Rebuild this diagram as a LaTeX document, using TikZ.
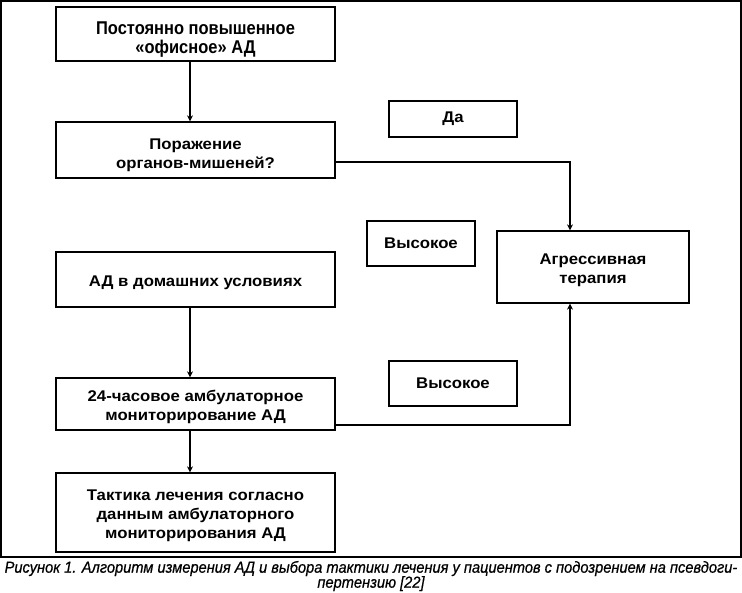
\documentclass[tikz,border=0pt]{standalone}
\usepackage{fontspec}
\setmainfont{Liberation Sans}
\newfontfamily\wideboxfont{Liberation Sans}[FakeStretch=1.08]
\newfontfamily\condfont{Liberation Sans}[FakeStretch=0.89]
\newfontfamily\capfont{Liberation Sans}[FakeStretch=0.915, ItalicFeatures={FakeBold=0.6}]
\usetikzlibrary{arrows.meta}
\newcommand\lowlines[2]{\raisebox{-#1}[\height][\depth]{\begin{tabular}{@{}c@{}}#2\end{tabular}}}
\begin{document}
\begin{tikzpicture}[x=1pt,y=-1pt,
  box/.style={draw, line width=1.3pt, align=center, inner sep=0pt,
    font=\fontsize{15.5}{19}\wideboxfont\bfseries},
  arr/.style={line width=1.1pt, -{Stealth[length=6pt,width=6pt]}}]
\useasboundingbox (0,0) rectangle (742,593);
\draw[line width=1.5pt] (1,1) rectangle (741,557);
\node[box, minimum width=279pt, minimum height=54pt,
  font=\fontsize{18.5}{19}\condfont\bfseries] (b1) at (195.5,34)
  {\lowlines{6pt}{Постоянно повышенное\\«офисное» АД}};
\node[box, minimum width=279pt, minimum height=56pt] (b2) at (195.5,150)
  {\lowlines{5pt}{Поражение\\органов-мишеней?}};
\node[box, minimum width=128pt, minimum height=36pt] (da) at (453,119) {Да};
\node[box, minimum width=108pt, minimum height=45pt] (v1) at (421,243.5) {Высокое};
\node[box, minimum width=192pt, minimum height=72pt] (ag) at (593,267)
  {\lowlines{3pt}{Агрессивная\\терапия}};
\node[box, minimum width=279pt, minimum height=55pt] (b6) at (195.5,279.5)
  {\lowlines{3pt}{АД в домашних условиях}};
\node[box, minimum width=279pt, minimum height=52pt] (b7) at (195.5,404)
  {\lowlines{3pt}{24-часовое амбулаторное\\мониторирование АД}};
\node[box, minimum width=128pt, minimum height=45pt] (v2) at (453,383.5) {Высокое};
\node[box, minimum width=279pt, minimum height=79pt] (b9) at (195.5,512.5)
  {\lowlines{3pt}{Тактика лечения согласно\\данным амбулаторного\\мониторирования АД}};
\coordinate (cx) at (190,0);
\coordinate (j1) at (570,162);
\coordinate (j2) at (570,425);
\draw[arr] (b1.south -| cx) -- (b2.north -| cx);
\draw[arr] (b6.south -| cx) -- (b7.north -| cx);
\draw[arr] (b7.south -| cx) -- (b9.north -| cx);
\draw[arr] (b2.east |- j1) -- (j1) -- (ag.north -| j1);
\draw[arr] (b7.east |- j2) -- (j2) -- (ag.south -| j2);
\node[align=center, inner sep=0pt, font=\fontsize{16}{15}\capfont\itshape] (cap) at (371,576)
  {Рисунок 1. Алгоритм измерения АД и выбора тактики лечения у пациентов с подозрением на псевдоги-\\пертензию [22]};
\end{tikzpicture}
\end{document}
